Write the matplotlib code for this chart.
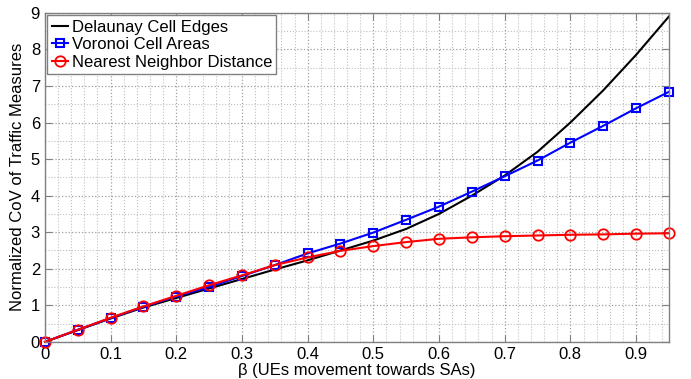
import matplotlib
matplotlib.use("Agg")
import matplotlib.pyplot as plt
from matplotlib.ticker import MultipleLocator

plt.rcParams['font.family'] = ['Liberation Sans', 'DejaVu Sans']

beta = [0.0, 0.05, 0.1, 0.15, 0.2, 0.25, 0.3, 0.35, 0.4, 0.45,
        0.5, 0.55, 0.6, 0.65, 0.7, 0.75, 0.8, 0.85, 0.9, 0.95]
delaunay = [0.0, 0.32, 0.64, 0.94, 1.2, 1.46, 1.72, 1.98, 2.23, 2.5,
            2.77, 3.09, 3.5, 4.0, 4.55, 5.2, 6.0, 6.88, 7.85, 8.9]
voronoi = [0.0, 0.33, 0.65, 0.96, 1.24, 1.5, 1.8, 2.1, 2.42, 2.69,
           2.99, 3.34, 3.7, 4.11, 4.53, 4.96, 5.45, 5.91, 6.39, 6.84]
nearest = [0.0, 0.33, 0.66, 0.97, 1.26, 1.55, 1.82, 2.1, 2.31, 2.49,
           2.62, 2.73, 2.82, 2.86, 2.89, 2.91, 2.93, 2.94, 2.96, 2.97]

fig = plt.figure(figsize=(6.91, 3.79), dpi=100)
ax = fig.add_axes([0.065, 0.098, 0.903, 0.868])

ax.plot(beta, delaunay, color='black', lw=1.5, label='Delaunay Cell Edges')
ax.plot(beta, voronoi, color='#0000ff', lw=1.5, marker='s', ms=5.5,
        mfc='none', mew=1.5, label='Voronoi Cell Areas', clip_on=False)
ax.plot(beta, nearest, color='#ff0000', lw=1.5, marker='o', ms=7.5,
        mfc='none', mew=1.3, label='Nearest Neighbor Distance', clip_on=False)

ax.set_xlim(0, 0.95)
ax.set_ylim(0, 9)
ax.xaxis.set_minor_locator(MultipleLocator(0.02))
ax.yaxis.set_major_locator(MultipleLocator(1))
ax.yaxis.set_minor_locator(MultipleLocator(0.5))
ticks = [0, 0.1, 0.2, 0.3, 0.4, 0.5, 0.6, 0.7, 0.8, 0.9]
ax.set_xticks(ticks)
ax.set_xticklabels(['0'] + [f'{t:g}' for t in ticks[1:]])

ax.grid(True, which='major', color='#a0a0a0', ls=':', lw=0.9)
ax.grid(True, which='minor', color='#c0c0c0', ls=':', lw=0.8)
ax.set_axisbelow(True)
ax.tick_params(which='both', direction='in', labelsize=12, color='#808080',
               top=True, right=True)
ax.tick_params(which='major', length=5)
ax.tick_params(which='minor', length=0)
for s in ax.spines.values():
    s.set_color('#808080')
    s.set_linewidth(1.0)

ax.set_xlabel('β (UEs movement towards SAs)', fontsize=12, labelpad=1)
ax.set_ylabel('Normalized CoV of Traffic Measures', fontsize=12, labelpad=4)

leg = ax.legend(loc='upper left', fontsize=12, handlelength=1.0,
                handletextpad=0.2, borderpad=0.25, labelspacing=0.15,
                borderaxespad=0.15, fancybox=False, framealpha=1)
leg.get_frame().set_edgecolor('#808080')
leg.get_frame().set_linewidth(1.0)

fig.savefig('out.png', dpi=100)
